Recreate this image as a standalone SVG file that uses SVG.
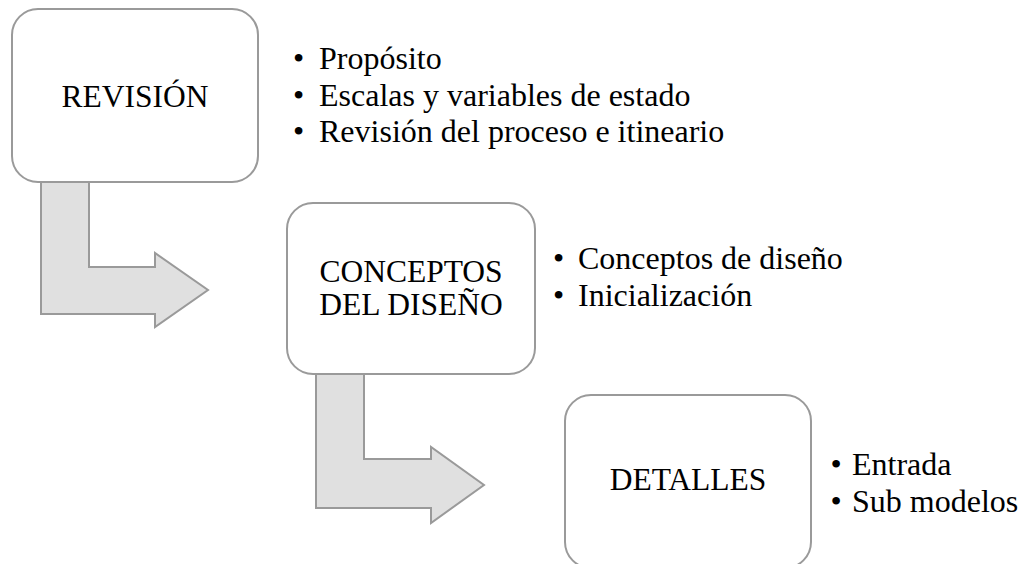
<svg xmlns="http://www.w3.org/2000/svg" width="1022" height="564" viewBox="0 0 1022 564">
<style>
.box{fill:#ffffff;stroke:#9a9a9a;stroke-width:2}
.arr{fill:#e0e0e0;stroke:#9a9a9a;stroke-width:2;stroke-linejoin:miter}
.t{font-family:"Liberation Serif","Times New Roman",serif;font-size:31.5px;fill:#000;text-anchor:middle}
.b{font-family:"Liberation Serif","Times New Roman",serif;font-size:32px;fill:#000}
</style>
<rect width="1022" height="564" fill="#ffffff"/>
<g id="connectors">
<path class="arr" d="M41,170 L89,170 L89,267 L155,267 L155,253 L208,290 L155,327 L155,314 L41,314 Z"/>
<path class="arr" d="M316,364 L364,364 L364,459 L431,459 L431,447 L484,485 L431,523 L431,508 L316,508 Z"/>
</g>
<g id="node-revision">
<rect class="box" x="12" y="9" width="246" height="173" rx="26"/>
<text class="t" x="135" y="107">REVISIÓN</text>
</g>
<g id="list-revision" class="b">
<text x="293" y="69">•</text><text x="319" y="69">Propósito</text>
<text x="293" y="105.5">•</text><text x="319" y="105.5">Escalas y variables de estado</text>
<text x="293" y="142">•</text><text x="319" y="142">Revisión del proceso e itineario</text>
</g>
<g id="node-conceptos">
<rect class="box" x="287" y="203" width="248" height="171" rx="26"/>
<text class="t" x="411" y="282">CONCEPTOS</text>
<text class="t" x="411" y="315">DEL DISEÑO</text>
</g>
<g id="list-conceptos" class="b">
<text x="553" y="269">•</text><text x="578" y="269">Conceptos de diseño</text>
<text x="553" y="305.5">•</text><text x="578" y="305.5">Inicialización</text>
</g>
<g id="node-detalles">
<rect class="box" x="565" y="395" width="246" height="173" rx="26"/>
<text class="t" x="688" y="490">DETALLES</text>
</g>
<g id="list-detalles" class="b">
<text x="830.5" y="475">•</text><text x="852" y="475">Entrada</text>
<text x="830.5" y="512">•</text><text x="852" y="512">Sub modelos</text>
</g>
</svg>
